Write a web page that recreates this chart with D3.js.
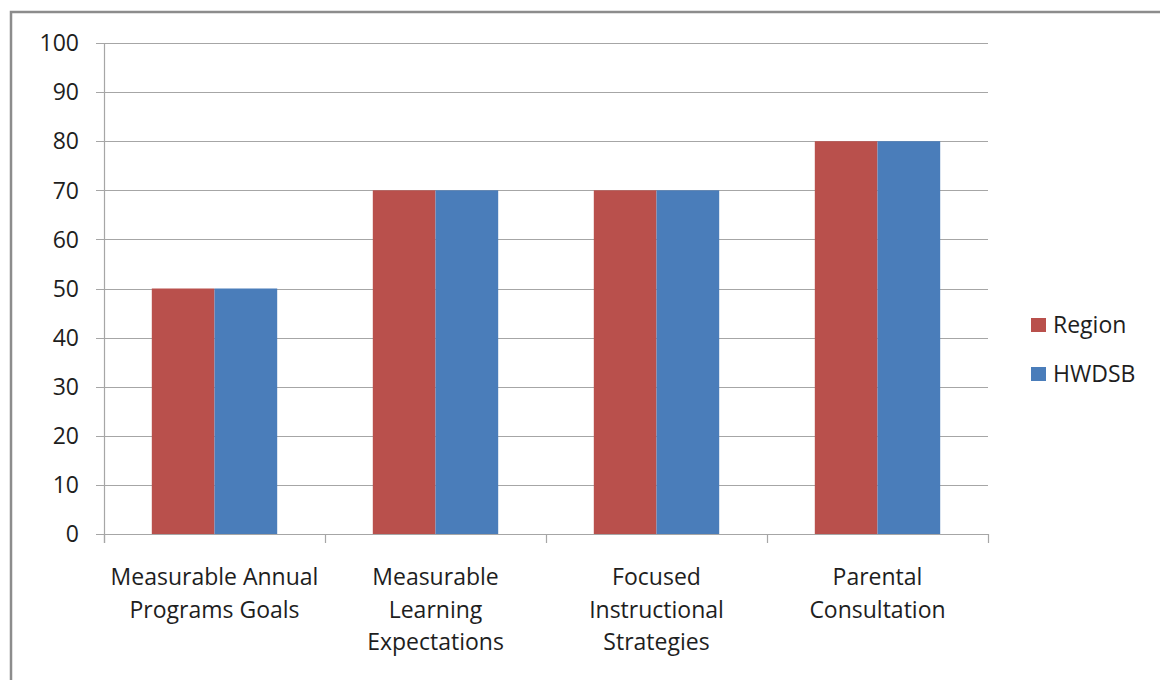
<!DOCTYPE html>
<html>
<head>
<meta charset="utf-8">
<script src="https://cdn.jsdelivr.net/npm/d3@7"></script>
<style>
  html, body { margin: 0; padding: 0; background: #fff; }
  svg { display: block; }
  text { font-family: "Open Sans", "Noto Sans", sans-serif; fill: #1e1e1e; }
</style>
</head>
<body>
<svg id="chart" width="1160" height="680"></svg>
<script>
// Category labels (line-broken as drawn under the axis)
const categories = [
  ["Measurable Annual", "Programs Goals"],
  ["Measurable", "Learning", "Expectations"],
  ["Focused", "Instructional", "Strategies"],
  ["Parental", "Consultation"]
];
const seriesNames = ["Region", "HWDSB"];
const regionValues = [50, 70, 70, 80];
const hwdsbValues = [50, 70, 70, 80];
const yTicks = [0, 10, 20, 30, 40, 50, 60, 70, 80, 90, 100];
const colors = ["#B9504C", "#4A7DBA"];

const svg = d3.select("#chart");

// Outer frame
svg.append("rect")
  .attr("x", 11).attr("y", 12)
  .attr("width", 1170).attr("height", 700)
  .attr("fill", "none").attr("stroke", "#8c8c8c").attr("stroke-width", 2.5);

const plot = { left: 104, right: 988, top: 43, bottom: 534 };

const x0 = d3.scaleBand()
  .domain(d3.range(categories.length))
  .range([plot.left, plot.right])
  .paddingInner(0).paddingOuter(0);

const groupWidth = 125.4;
const x1 = d3.scaleBand()
  .domain(seriesNames)
  .range([0, groupWidth]);

const y = d3.scaleLinear().domain([0, 100]).range([plot.bottom, plot.top]);

// Horizontal gridlines with left tick marks
svg.append("g").selectAll("line")
  .data(yTicks)
  .join("line")
  .attr("x1", plot.left - 8).attr("x2", plot.right)
  .attr("y1", d => Math.round(y(d)) + 0.5).attr("y2", d => Math.round(y(d)) + 0.5)
  .attr("stroke", "#a6a6a6").attr("stroke-width", 1.2);

// Y tick labels
svg.append("g").selectAll("text")
  .data(yTicks)
  .join("text")
  .attr("x", 79).attr("y", d => y(d))
  .attr("dy", "0.36em")
  .attr("text-anchor", "end")
  .style("font-size", "23px")
  .text(d => d);

// Bars
const data = categories.map((c, i) => ({ i, values: [regionValues[i], hwdsbValues[i]] }));
const groups = svg.append("g").selectAll("g")
  .data(data)
  .join("g")
  .attr("transform", d => `translate(${x0(d.i) + (x0.bandwidth() - groupWidth) / 2},0)`);

groups.selectAll("rect")
  .data(d => d.values.map((v, k) => ({ k, v })))
  .join("rect")
  .attr("x", d => x1(seriesNames[d.k]))
  .attr("width", x1.bandwidth())
  .attr("y", d => y(d.v))
  .attr("height", d => y(0) - y(d.v))
  .attr("fill", d => colors[d.k]);

// Y axis line
svg.append("line")
  .attr("x1", plot.left + 0.5).attr("x2", plot.left + 0.5)
  .attr("y1", plot.top).attr("y2", plot.bottom + 9)
  .attr("stroke", "#a6a6a6").attr("stroke-width", 1.2);

// X axis baseline and category boundary ticks
svg.append("line")
  .attr("x1", plot.left - 8).attr("x2", plot.right)
  .attr("y1", plot.bottom + 0.5).attr("y2", plot.bottom + 0.5)
  .attr("stroke", "#a6a6a6").attr("stroke-width", 1.2);

const boundaries = d3.range(categories.length + 1).map(i =>
  i < categories.length ? x0(i) : x0(i - 1) + x0.bandwidth());
svg.append("g").selectAll("line")
  .data(boundaries)
  .join("line")
  .attr("x1", d => Math.round(d) + 0.5).attr("x2", d => Math.round(d) + 0.5)
  .attr("y1", plot.bottom).attr("y2", plot.bottom + 9)
  .attr("stroke", "#a6a6a6").attr("stroke-width", 1.2);

// Category labels
const labelG = svg.append("g").selectAll("text")
  .data(categories)
  .join("text")
  .attr("x", (d, i) => x0(i) + x0.bandwidth() / 2)
  .attr("y", 585)
  .attr("text-anchor", "middle")
  .style("font-size", "23px");
labelG.selectAll("tspan")
  .data(d => d)
  .join("tspan")
  .attr("x", function () { return this.parentNode.getAttribute("x"); })
  .attr("dy", (d, j) => j === 0 ? 0 : 32.5)
  .text(d => d);

// Legend
const legend = svg.append("g").selectAll("g")
  .data(seriesNames)
  .join("g")
  .attr("transform", (d, i) => `translate(1031,${318 + i * 49})`);
legend.append("rect")
  .attr("width", 15).attr("height", 14)
  .attr("fill", (d, i) => colors[i]);
legend.append("text")
  .attr("x", 22).attr("y", 7)
  .attr("dy", "0.36em")
  .style("font-size", "23px")
  .text(d => d);
</script>
</body>
</html>
